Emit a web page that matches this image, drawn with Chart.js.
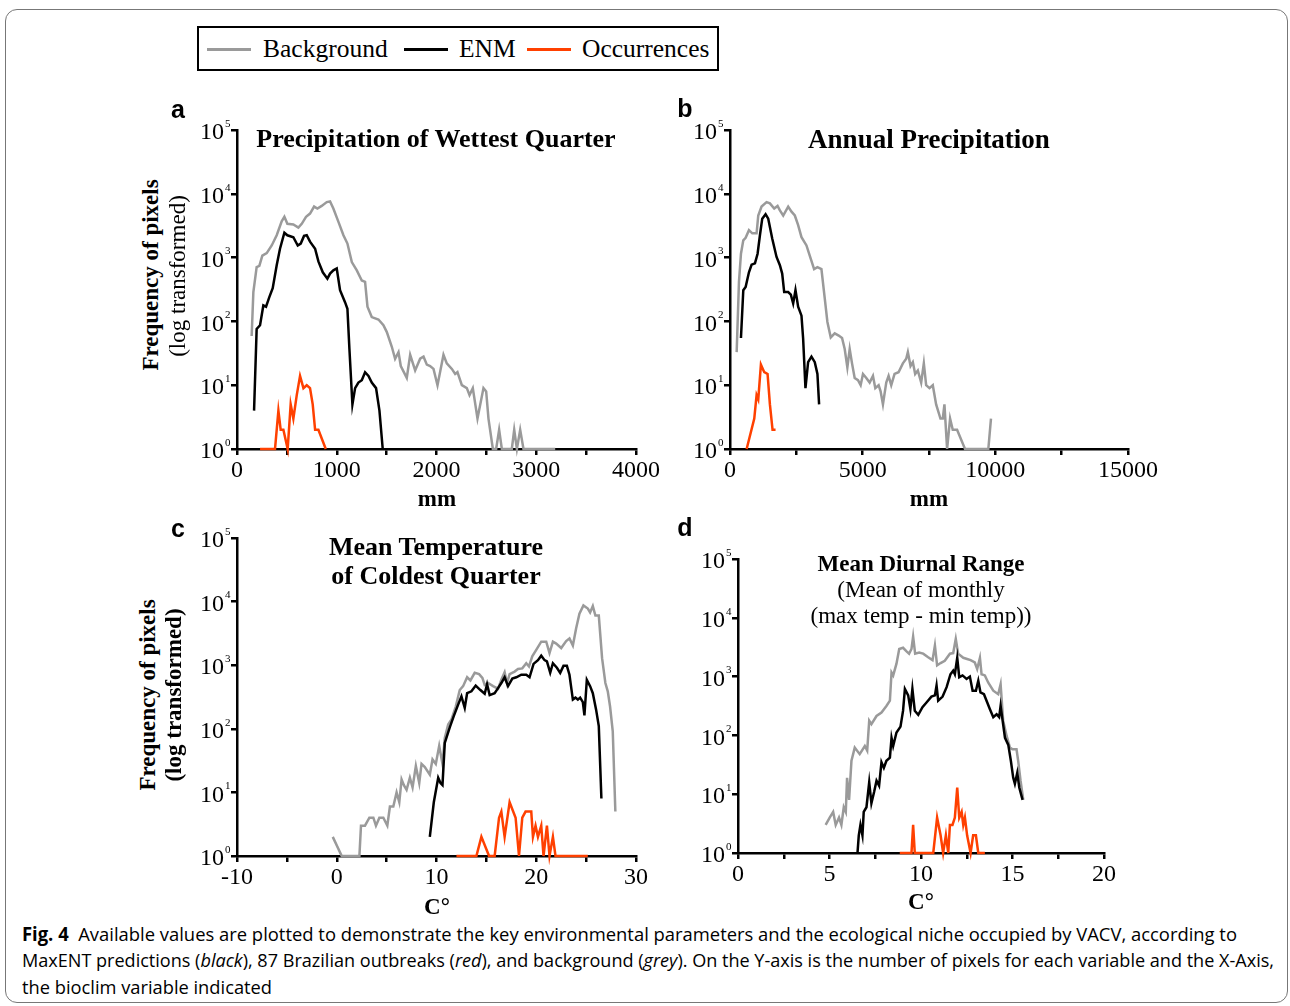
<!DOCTYPE html>
<html>
<head>
<meta charset="utf-8">
<script src="https://cdn.jsdelivr.net/npm/chart.js@4.4.1/dist/chart.umd.min.js"></script>
<style>
body{margin:0;width:1290px;height:1006px;background:#fff;position:relative;overflow:hidden;font-family:"Liberation Serif",serif;color:#000}
#frame{position:absolute;left:5px;top:9px;width:1281px;height:992px;border:1px solid #777;border-radius:12px}
#legend{position:absolute;left:197px;top:26px;width:522px;height:45px;border:2px solid #000;box-sizing:border-box}
.key{position:absolute;top:20px;height:3px;width:44px}
.ktxt{position:absolute;top:0;line-height:42px;font-size:25.5px}
.box{position:absolute}
.t{position:absolute;transform:translate(-50%,-50%);white-space:nowrap;text-align:center;line-height:1}
.r{position:absolute;transform:translate(-50%,-50%) rotate(-90deg);white-space:nowrap;line-height:1}
.b{font-weight:bold}
.let{font:bold 25px "Liberation Sans",sans-serif}
.cap{position:absolute;left:22px;white-space:nowrap;font:19px "Open Sans",sans-serif;transform-origin:0 50%;line-height:1}
.cap b{font-weight:bold}
</style>
</head>
<body>
<div id="frame"></div>
<div id="legend">
  <div class="key" style="left:8px;background:#9a9a9a"></div><div class="ktxt" style="left:64px">Background</div>
  <div class="key" style="left:205px;background:#000"></div><div class="ktxt" style="left:260px">ENM</div>
  <div class="key" style="left:328px;background:#ff4000"></div><div class="ktxt" style="left:383px">Occurrences</div>
</div>

<div class="box" style="left:167px;top:115px"><canvas id="chartA" width="509" height="374"></canvas></div>
<div class="box" style="left:660px;top:115px"><canvas id="chartB" width="508" height="374"></canvas></div>
<div class="box" style="left:167px;top:523px"><canvas id="chartC" width="509" height="373"></canvas></div>
<div class="box" style="left:668px;top:544px"><canvas id="chartD" width="476" height="349"></canvas></div>

<div class="t let" style="left:178px;top:109px">a</div>
<div class="t let" style="left:685px;top:108px">b</div>
<div class="t let" style="left:178px;top:528px">c</div>
<div class="t let" style="left:685px;top:527px">d</div>

<div class="t b" style="left:436px;top:139px;font-size:26px">Precipitation of Wettest Quarter</div>
<div class="t b" style="left:929px;top:139px;font-size:27px">Annual Precipitation</div>
<div class="t b" style="left:436px;top:547px;font-size:26px">Mean Temperature</div>
<div class="t b" style="left:436px;top:576px;font-size:26px">of Coldest Quarter</div>
<div class="t b" style="left:921px;top:563px;font-size:23px">Mean Diurnal Range</div>
<div class="t" style="left:921px;top:589px;font-size:23px">(Mean of monthly</div>
<div class="t" style="left:921px;top:615px;font-size:23px">(max temp - min temp))</div>

<div class="r b" style="left:150px;top:275px;font-size:23px">Frequency of pixels</div>
<div class="r" style="left:177px;top:276px;font-size:23px">(log transformed)</div>
<div class="r b" style="left:147px;top:695px;font-size:23px">Frequency of pixels</div>
<div class="r b" style="left:173px;top:695px;font-size:23px">(log transformed)</div>

<div class="t b" style="left:437px;top:498px;font-size:23px">mm</div>
<div class="t b" style="left:929px;top:498px;font-size:23px">mm</div>
<div class="t b" style="left:437px;top:906px;font-size:23px">C°</div>
<div class="t b" style="left:921px;top:901px;font-size:23px">C°</div>

<div class="cap" data-w="1215" style="top:925px"><b>Fig. 4</b>&nbsp; Available values are plotted to demonstrate the key environmental parameters and the ecological niche occupied by VACV, according to</div>
<div class="cap" data-w="1252" style="top:951px">MaxENT predictions (<i>black</i>), 87 Brazilian outbreaks (<i>red</i>), and background (<i>grey</i>). On the Y-axis is the number of pixels for each variable and the X-Axis,</div>
<div class="cap" data-w="250" style="top:978px">the bioclim variable indicated</div>

<script>
// y axis: powers of ten, zero counts sit on 10^0
const yTicks = [1, 10, 100, 1000, 10000, 100000];

// a: Precipitation of Wettest Quarter (mm)
const wetBackground = [[147,59],[164,288],[197,708],[224,741],[254,1072],[298,1175],[348,1549],[398,2239],[448,3715],[475,4365],[505,3388],[565,3311],[615,2951],[649,3388],[692,4365],[732,4898],[773,6310],[806,5888],[849,6457],[900,7413],[933,7586],[966,5888],[1017,3631],[1067,2239],[1107,1660],[1151,851],[1201,631],[1251,437],[1284,417],[1308,170],[1351,117],[1418,107],[1468,87],[1502,68],[1552,40],[1585,26],[1619,33],[1642,20],[1702,13],[1736,30],[1786,17],[1836,26],[1870,28],[1903,21],[1936,20],[1970,18],[2010,10],[2070,30],[2103,22],[2154,18],[2187,15],[2210,16],[2254,10],[2304,9],[2331,7],[2364,9],[2411,3],[2471,9],[2498,8],[2521,3],[2565,1],[2598,1],[2628,2],[2655,1],[2755,1],[2779,2],[2806,1],[2839,2],[2872,1],[3190,1]];
const wetEnm = [[171,4],[197,76],[231,87],[264,178],[291,170],[324,240],[358,331],[398,759],[431,1380],[475,2455],[505,2239],[565,2089],[609,1549],[639,1660],[672,2188],[699,2239],[732,1778],[783,1380],[816,871],[860,589],[906,468],[933,562],[966,631],[1000,676],[1033,309],[1083,200],[1107,158],[1127,37],[1157,5],[1184,9],[1217,11],[1251,12],[1284,16],[1318,14],[1351,11],[1394,9],[1428,4],[1461,1]];
const wetOccur = [[231,1],[381,1],[415,4],[438,2],[465,2],[508,1],[538,5],[565,3],[599,7],[632,14],[666,9],[699,10],[732,9],[759,5],[783,2],[816,2],[890,1]];

// b: Annual Precipitation (mm)
const annBackground = [[251,33],[338,417],[413,1148],[501,1862],[589,2042],[714,2692],[840,2399],[1002,2399],[1065,4571],[1190,6310],[1378,7413],[1504,7079],[1666,5888],[1792,6457],[1880,5495],[2005,4571],[2193,6310],[2318,5248],[2443,4571],[2568,3236],[2694,2089],[2882,1549],[3045,955],[3170,661],[3295,708],[3446,661],[3571,229],[3671,98],[3797,56],[3947,65],[4097,60],[4223,55],[4323,37],[4423,19],[4511,37],[4599,22],[4699,13],[4824,12],[4924,10],[5012,15],[5137,13],[5263,11],[5388,14],[5476,9],[5601,10],[5676,8],[5764,5],[5889,11],[5977,14],[6077,10],[6202,15],[6352,16],[6515,22],[6641,26],[6703,33],[6804,20],[6891,23],[6979,15],[7079,17],[7205,11],[7305,22],[7393,10],[7518,9],[7643,10],[7769,5],[7932,3],[8019,3],[8082,5],[8182,1],[8295,3],[8395,2],[8558,2],[8858,1],[9736,1],[9836,3]];
const annEnm = [[413,55],[501,309],[589,347],[714,589],[815,776],[940,813],[1040,1148],[1128,2239],[1215,4074],[1341,4786],[1441,4074],[1591,1995],[1754,1023],[1880,759],[1967,562],[2042,288],[2193,288],[2293,263],[2381,191],[2468,309],[2568,170],[2694,123],[2756,54],[2844,9],[2944,23],[3070,28],[3195,23],[3295,15],[3358,5]];
const annOccur = [[627,1],[915,3],[1002,7],[1065,6],[1165,21],[1291,16],[1416,15],[1504,5],[1604,2],[1717,2]];

// c: Mean Temperature of Coldest Quarter (C)
const coldBackground = [[-0.4,2],[0.5,1],[2.27,1],[2.43,3],[2.83,3],[3.27,4],[3.67,4],[3.93,3],[4.27,4],[4.67,4],[5.07,3],[5.33,6],[5.67,6],[6.0,10],[6.27,7],[6.5,16],[6.73,13],[7.0,11],[7.33,17],[7.6,12],[7.93,26],[8.27,14],[8.5,28],[8.83,25],[9.33,19],[9.6,33],[9.93,28],[10.27,54],[10.6,28],[10.83,72],[11.17,117],[11.5,141],[11.93,224],[12.33,407],[12.67,468],[13.07,646],[13.4,575],[13.83,759],[14.27,724],[14.6,631],[14.83,490],[15.17,525],[15.67,468],[16.17,427],[16.5,589],[16.83,776],[17.07,525],[17.33,724],[17.83,794],[18.17,871],[18.6,891],[19.0,1072],[19.27,955],[19.6,1380],[20.0,1738],[20.5,2344],[21.0,2344],[21.33,1549],[21.67,2344],[22.0,2188],[22.5,1862],[23.0,2399],[23.33,2630],[23.67,2042],[24.0,3802],[24.33,6457],[24.73,8710],[25.17,7762],[25.4,6761],[25.67,8511],[25.93,6026],[26.27,6026],[26.6,1288],[26.93,525],[27.17,389],[27.4,224],[27.67,91],[27.93,5]];
const coldEnm = [[9.33,2],[9.73,7],[10.17,17],[10.4,14],[10.6,13],[10.83,60],[11.33,105],[11.73,158],[12.17,240],[12.5,324],[12.83,214],[13.07,363],[13.5,389],[13.93,479],[14.4,407],[14.83,355],[15.07,501],[15.33,339],[15.83,363],[16.17,437],[16.5,525],[16.83,646],[17.17,468],[17.6,617],[18.0,646],[18.5,708],[19.0,708],[19.33,646],[19.73,1047],[20.17,1202],[20.5,1413],[20.83,1202],[21.07,1148],[21.4,759],[21.67,1072],[22.07,912],[22.4,759],[22.73,977],[23.07,977],[23.33,708],[23.67,288],[23.93,309],[24.17,288],[24.4,309],[24.67,263],[24.83,162],[25.07,589],[25.4,468],[25.67,363],[26.0,200],[26.27,110],[26.53,8]];
const coldOccur = [[12.0,1],[14.0,1],[14.5,2],[15.27,1],[15.83,1],[16.27,4],[16.5,5],[16.83,2],[17.33,7],[17.93,4],[18.27,1],[18.6,4],[18.93,5],[19.5,5],[19.67,2],[19.93,3],[20.17,2],[20.5,3],[20.73,1],[21.07,3],[21.33,1],[21.67,2],[21.93,1],[25.17,1]];

// d: Mean Diurnal Range (C)
const diurBackground = [[4.79,3],[5.01,4],[5.2,5],[5.34,3],[5.52,4],[5.65,3],[5.78,6],[5.89,5],[5.96,19],[6.07,8],[6.2,37],[6.38,62],[6.65,48],[6.93,66],[7.06,55],[7.17,178],[7.29,155],[7.57,214],[7.84,245],[8.11,316],[8.3,389],[8.39,1175],[8.48,1047],[8.66,1660],[8.81,2951],[9.02,3090],[9.21,2692],[9.35,2455],[9.48,2951],[9.57,4786],[9.68,2455],[9.9,2570],[10.12,2455],[10.39,2138],[10.63,1905],[10.76,3388],[10.88,1549],[11.07,1698],[11.3,1862],[11.58,2455],[11.76,2512],[11.9,4365],[12.03,2455],[12.31,2089],[12.52,1995],[12.71,1905],[12.94,1738],[13.07,1349],[13.22,2089],[13.31,1096],[13.49,1047],[13.67,794],[13.95,575],[14.22,501],[14.35,741],[14.49,178],[14.68,98],[14.86,62],[15.0,58],[15.22,58],[15.31,37],[15.44,17],[15.59,8]];
const diurEnm = [[6.53,1],[6.6,2],[6.69,3],[6.8,2],[6.87,5],[7.02,6],[7.17,16],[7.29,7],[7.44,11],[7.57,17],[7.71,14],[7.84,35],[7.97,28],[8.11,37],[8.3,42],[8.39,91],[8.48,66],[8.66,112],[8.88,141],[9.02,263],[9.12,617],[9.3,479],[9.42,282],[9.53,617],[9.66,263],[9.85,224],[10.08,302],[10.3,363],[10.57,457],[10.76,479],[10.85,708],[10.94,389],[11.18,457],[11.4,661],[11.61,1096],[11.76,1259],[11.85,1096],[11.98,2089],[12.09,977],[12.27,1047],[12.49,912],[12.67,1000],[12.82,575],[13.0,575],[13.13,851],[13.25,537],[13.44,501],[13.62,363],[13.76,282],[13.95,204],[14.13,229],[14.27,204],[14.35,316],[14.46,178],[14.59,91],[14.77,69],[14.91,37],[15.04,19],[15.13,15],[15.26,23],[15.37,13],[15.55,8]];
const diurOccur = [[8.84,1],[9.48,1],[9.57,3],[9.66,1],[10.67,1],[10.88,4],[11.07,2],[11.21,1],[11.36,2],[11.49,1],[11.58,3],[11.72,3],[11.85,4],[11.98,13],[12.09,4],[12.22,5],[12.31,3],[12.4,4],[12.52,2],[12.71,1],[12.85,2],[13.0,2],[13.13,1],[13.49,1]];

const GREY = '#9a9a9a', RED = '#ff4000';
const tickFont = {family:'"Liberation Serif", serif', size:24};

// "10" with a raised exponent next to each y tick
const powLabels = {
  id:'powLabels',
  afterDraw(chart){
    const s = chart.scales.y, ctx = chart.ctx;
    ctx.save();
    ctx.fillStyle = '#000';
    s.ticks.forEach(t => {
      const y = s.getPixelForValue(t.value);
      ctx.font = '24px "Liberation Serif"';
      ctx.textAlign = 'right'; ctx.textBaseline = 'middle';
      ctx.fillText('10', s.right - 13, y + 3);
      ctx.font = '11px "Liberation Serif"';
      ctx.textAlign = 'left';
      ctx.fillText(String(Math.round(Math.log10(t.value))), s.right - 12, y - 6);
    });
    ctx.restore();
  }
};

function panel(id, xMin, xMax, xStep, xLabelStep, bg, enm, occ){
  const line = (label, data, color) => ({label, data, borderColor:color, borderWidth:2.5, pointRadius:0, tension:0, fill:false, clip:false});
  const axisGrid = {drawOnChartArea:false, color:'#000', lineWidth:2.5, tickLength:6};
  const axisBorder = {color:'#000', width:2.5};
  return new Chart(document.getElementById(id), {
    type:'line',
    data:{datasets:[line('Occurrences', occ, RED), line('ENM', enm, '#000'), line('Background', bg, GREY)]},
    options:{
      responsive:false, animation:false,
      layout:{padding:{top:15, right:40, bottom:0, left:0}},
      plugins:{legend:{display:false}, tooltip:{enabled:false}},
      scales:{
        x:{type:'linear', min:xMin, max:xMax,
           ticks:{stepSize:xStep, autoSkip:false, maxRotation:0, padding:1, color:'#000', font:tickFont,
                  callback:v => Math.abs(v % xLabelStep) < 1e-9 ? String(v) : ''},
           grid:axisGrid, border:axisBorder, afterFit:s => { s.height = 40; }},
        y:{type:'logarithmic', min:1, max:100000,
           afterBuildTicks:s => { s.ticks = yTicks.map(v => ({value:v})); },
           ticks:{display:false}, grid:axisGrid, border:axisBorder, afterFit:s => { s.width = 70; }}
      }
    },
    plugins:[powLabels]
  });
}

panel('chartA', 0, 4000, 500, 1000, wetBackground, wetEnm, wetOccur);
panel('chartB', 0, 15000, 2500, 5000, annBackground, annEnm, annOccur);
panel('chartC', -10, 30, 5, 10, coldBackground, coldEnm, coldOccur);
panel('chartD', 0, 20, 2.5, 5, diurBackground, diurEnm, diurOccur);

// squeeze caption lines to the printed line widths
document.querySelectorAll('.cap').forEach(el => {
  const w = el.getBoundingClientRect().width;
  el.style.transform = 'scaleX(' + (+el.dataset.w / w) + ')';
});
</script>
</body>
</html>
